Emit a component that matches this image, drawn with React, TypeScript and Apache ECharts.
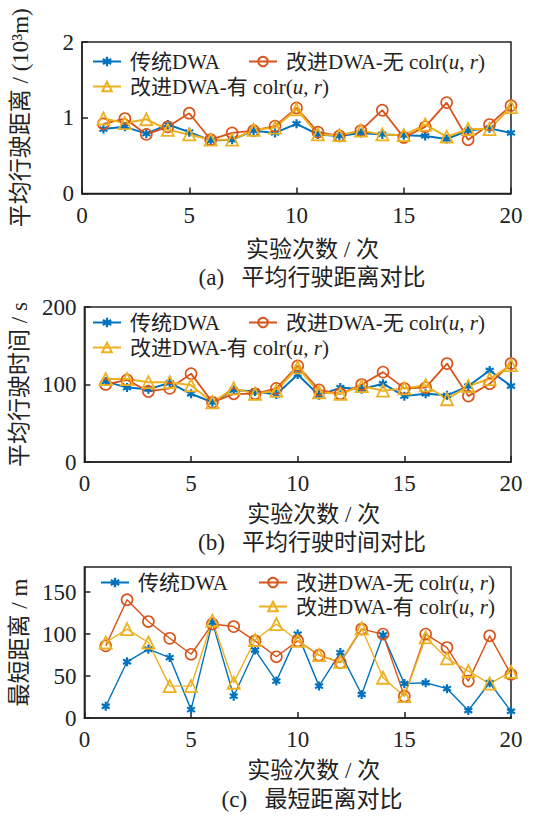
import React, { useEffect, useRef } from "react";
import * as echarts from "echarts";

const runs = [1, 2, 3, 4, 5, 6, 7, 8, 9, 10, 11, 12, 13, 14, 15, 16, 17, 18, 19, 20];

// (a) 平均行驶距离 (10^3 m)
const distTrad = [0.85, 0.88, 0.79, 0.91, 0.81, 0.70, 0.71, 0.83, 0.80, 0.92, 0.78, 0.76, 0.80, 0.78, 0.77, 0.76, 0.72, 0.83, 0.86, 0.80];
const distNo = [0.92, 0.99, 0.78, 0.88, 1.06, 0.71, 0.80, 0.83, 0.89, 1.13, 0.81, 0.76, 0.83, 1.10, 0.74, 0.88, 1.20, 0.71, 0.91, 1.16];
const distYes = [0.99, 0.93, 0.98, 0.84, 0.78, 0.71, 0.71, 0.84, 0.87, 1.11, 0.78, 0.77, 0.83, 0.78, 0.77, 0.91, 0.75, 0.85, 0.85, 1.14];

// (b) 平均行驶时间 (s)
const timeTrad = [104, 96, 94, 102, 88, 77, 93, 91, 87, 113, 86, 96, 94, 101, 85, 88, 86, 98, 118, 98];
const timeNo = [100, 106, 91, 95, 114, 77, 88, 88, 95, 124, 93, 88, 100, 116, 95, 96, 127, 85, 101, 127];
const timeYes = [107, 107, 103, 103, 99, 77, 95, 88, 92, 122, 90, 88, 98, 92, 95, 99, 81, 98, 107, 125];

// (c) 最短距离 (m)
const minTrad = [14, 67, 82, 72, 10, 114, 26, 81, 44, 100, 38, 78, 28, 99, 41, 42, 35, 9, 42, 8];
const minNo = [86, 141, 115, 95, 76, 112, 109, 92, 73, 92, 75, 66, 106, 100, 26, 100, 84, 44, 98, 52];
const minYes = [90, 106, 90, 38, 38, 116, 42, 93, 112, 92, 75, 67, 107, 48, 26, 96, 71, 56, 41, 55];

const xTicks = { min: 0, max: 20, interval: 5 };
const yNames = ["平均行驶距离 / (10³m)", "平均行驶时间 / s", "最短距离 / m"];
const captions = ["(a)   平均行驶距离对比", "(b)   平均行驶时间对比", "(c)   最短距离对比"];
const xName = "实验次数 / 次";
const seriesNames = ["传统DWA", "改进DWA-无colr", "改进DWA-有colr"];

const BLUE = "#0072BD";
const RED = "#D95319";
const YEL = "#EDB120";
const FONT = "'Liberation Serif', 'Noto Sans CJK SC', serif";

const ASTERISK =
  "path://M-1.2,5 L1.2,5 L1.2,-5 L-1.2,-5 Z M3.73,3.54 L4.93,1.46 L-3.73,-3.54 L-4.93,-1.46 Z M-4.93,1.46 L-3.73,3.54 L4.93,-1.46 L3.73,-3.54 Z";

const grids = [
  { left: 82, top: 42, width: 429, height: 151.5 },
  { left: 82, top: 307, width: 429, height: 155 },
  { left: 82, top: 567, width: 429, height: 151 },
];
const yScales = [
  { min: 0, max: 2, interval: 1 },
  { min: 0, max: 200, interval: 100 },
  { min: 0, max: 180, interval: 50 },
];
const xNameGaps = [44, 41, 41];
const captionTops = [266, 531, 788];

function toPairs(arr: number[]) {
  return runs.map((r, i) => [r, arr[i]]);
}

function legendFormatter(name: string) {
  if (name === "传统DWA") return name;
  return name.replace("colr", " colr({i|u}, {i|r})");
}

export default function App() {
  const ref = useRef<HTMLDivElement>(null);

  useEffect(() => {
    if (!ref.current) return;
    const chart = echarts.init(ref.current, undefined, { renderer: "svg" });

    const data = [
      [distTrad, distNo, distYes],
      [timeTrad, timeNo, timeYes],
      [minTrad, minNo, minYes],
    ];

    const series: any[] = [];
    data.forEach((group, gi) => {
      const lw = gi === 2 ? 1.4 : 2;
      series.push({
        name: seriesNames[0],
        type: "line",
        xAxisIndex: gi,
        yAxisIndex: gi,
        data: toPairs(group[0]),
        symbol: ASTERISK,
        symbolSize: 9,
        lineStyle: { color: BLUE, width: lw },
        itemStyle: { color: BLUE },
      });
      series.push({
        name: seriesNames[1],
        type: "line",
        xAxisIndex: gi,
        yAxisIndex: gi,
        data: toPairs(group[1]),
        symbol: "circle",
        symbolSize: 11,
        lineStyle: { color: RED, width: gi === 2 ? 1.4 : 1.8 },
        itemStyle: { color: "rgba(255,255,255,0)", borderColor: RED, borderWidth: 1.6 },
      });
      series.push({
        name: seriesNames[2],
        type: "line",
        xAxisIndex: gi,
        yAxisIndex: gi,
        data: toPairs(group[2]),
        symbol: "triangle",
        symbolSize: 12,
        lineStyle: { color: YEL, width: lw },
        itemStyle: { color: "rgba(255,255,255,0)", borderColor: YEL, borderWidth: 1.8 },
      });
    });

    const legendPos = [
      [
        { left: 92, top: 51 },
        { left: 248, top: 51 },
        { left: 92, top: 76 },
      ],
      [
        { left: 92, top: 312 },
        { left: 248, top: 312 },
        { left: 92, top: 337 },
      ],
      [
        { left: 100, top: 572 },
        { left: 258, top: 572 },
        { left: 258, top: 596 },
      ],
    ];

    const legends: any[] = [];
    legendPos.forEach((row) => {
      row.forEach((p, i) => {
        legends.push({
          data: [seriesNames[i]],
          left: p.left,
          top: p.top,
          padding: 0,
          itemWidth: 28,
          itemHeight: 12,
          itemGap: 8,
          selectedMode: false,
          formatter: legendFormatter,
          textStyle: {
            fontFamily: FONT,
            fontSize: 21,
            color: "#222",
            padding: [0, 0, 0, 4],
            rich: {
              i: { fontFamily: FONT, fontSize: 21, fontStyle: "italic", color: "#222" },
            },
          },
        });
      });
    });

    const option: any = {
      animation: false,
      backgroundColor: "#fff",
      title: captions.map((c, i) => ({
        text: c,
        left: 312,
        top: captionTops[i],
        textAlign: "center",
        padding: 0,
        textStyle: { fontFamily: FONT, fontSize: 23, fontWeight: "normal", color: "#222" },
      })),
      legend: legends,
      grid: grids.map((g) => ({
        ...g,
        show: true,
        borderColor: "#222",
        borderWidth: 1.5,
        containLabel: false,
      })),
      xAxis: grids.map((_, i) => ({
        type: "value",
        gridIndex: i,
        ...xTicks,
        name: xName,
        nameLocation: "middle",
        nameGap: xNameGaps[i],
        nameTextStyle: { fontFamily: FONT, fontSize: 23, color: "#222", padding: [0, 0, 0, 32] },
        axisLine: { show: true, lineStyle: { color: "#222", width: 1.5 } },
        axisTick: { show: true, inside: true, length: 6, lineStyle: { color: "#222", width: 1.5 } },
        axisLabel: { fontFamily: FONT, fontSize: 23, color: "#222", margin: 10 },
        splitLine: { show: false },
      })),
      yAxis: grids.map((_, i) => ({
        type: "value",
        gridIndex: i,
        ...yScales[i],
        name: yNames[i],
        nameLocation: "middle",
        nameGap: 50,
        nameTextStyle: { fontFamily: FONT, fontSize: 23, color: "#222" },
        axisLine: { show: true, lineStyle: { color: "#222", width: 1.5 } },
        axisTick: { show: true, inside: true, length: 6, lineStyle: { color: "#222", width: 1.5 } },
        axisLabel: { fontFamily: FONT, fontSize: 23, color: "#222", margin: 8, showMaxLabel: i !== 2 },
        splitLine: { show: false },
      })),
      series,
    };

    chart.setOption(option);
    return () => chart.dispose();
  }, []);

  return (
    <div
      ref={ref}
      style={{ position: "fixed", left: 0, top: 0, width: 553, height: 816 }}
    />
  );
}
